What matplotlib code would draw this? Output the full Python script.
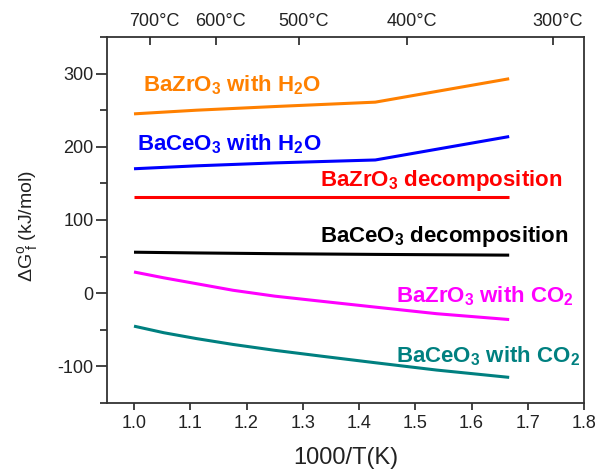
import matplotlib
matplotlib.use("Agg")
import matplotlib.pyplot as plt
import matplotlib.transforms as mtransforms
from matplotlib.ticker import MultipleLocator

plt.rcParams['font.family'] = ['Liberation Sans', 'DejaVu Sans']
plt.rcParams['mathtext.fontset'] = 'custom'
plt.rcParams['mathtext.rm'] = 'Liberation Sans'
plt.rcParams['mathtext.it'] = 'Liberation Sans'
plt.rcParams['mathtext.bf'] = 'Liberation Sans:bold'
plt.rcParams['mathtext.default'] = 'regular'
plt.rcParams['axes.unicode_minus'] = False

# ---- data ----
inv_T_a = [1.0, 1.111, 1.25, 1.429, 1.667]          # 1000/T (K)
bazro3_h2o = [245, 250, 255, 261, 293]
baceo3_h2o = [170, 174, 178, 182, 214]
bazro3_dec = [131, 131, 131, 131, 131]
baceo3_dec = [56, 55, 54, 53, 52]

inv_T_b = [1.0, 1.053, 1.111, 1.176, 1.25, 1.333, 1.429, 1.538, 1.667]
bazro3_co2 = [29, 21, 13, 4, -4, -11, -19, -28, -36]
baceo3_co2 = [-45, -54, -62, -70, -78, -86, -95, -105, -115]

series_labels = [r"BaZrO$_3$ with H$_2$O", r"BaCeO$_3$ with H$_2$O",
                 r"BaZrO$_3$ decomposition", r"BaCeO$_3$ decomposition",
                 r"BaZrO$_3$ with CO$_2$", r"BaCeO$_3$ with CO$_2$"]
series_colors = ['#FF8000', '#0000FF', '#FF0000', '#000000', '#FF00FF', '#008080']
label_pos = [(1.016, 275), (1.005, 195), (1.330, 147), (1.330, 70),
             (1.466, -12), (1.466, -94)]

top_temps_C = [700, 600, 500, 400, 300]
x_ticks = [1.0, 1.1, 1.2, 1.3, 1.4, 1.5, 1.6, 1.7, 1.8]
y_ticks = [-100, 0, 100, 200, 300]

fig = plt.figure(figsize=(6, 4.72), dpi=100)
ax = fig.add_axes([107/600, 1-403/472, 477/600, 366/472])

all_x = [inv_T_a, inv_T_a, inv_T_a, inv_T_a, inv_T_b, inv_T_b]
all_series = [bazro3_h2o, baceo3_h2o, bazro3_dec, baceo3_dec, bazro3_co2, baceo3_co2]
for xs, ys, c, lab, (lx, ly) in zip(all_x, all_series, series_colors,
                                    series_labels, label_pos):
    ax.plot(xs, ys, color=c, lw=2.2, solid_capstyle='butt')
    ax.text(lx, ly, lab, color=c, fontsize=16, fontweight='bold',
            ha='left', va='baseline')

ax.set_xlim(0.952, 1.8)
ax.set_ylim(-150, 350)
ax.set_xticks(x_ticks)
ax.set_xticklabels([f"{v:.1f}" for v in x_ticks])
ax.set_yticks(y_ticks)
ax.yaxis.set_minor_locator(MultipleLocator(50))

tick_col = '#222222'
for s in ax.spines.values():
    s.set_color('#333333')
    s.set_linewidth(1.3)
ax.tick_params(axis='x', which='major', direction='out', length=5, width=1.2,
               labelsize=13, pad=4, colors=tick_col, top=False)
ax.tick_params(axis='y', which='major', direction='out', length=8, width=1.2,
               labelsize=13, pad=1.5, colors=tick_col, right=False)
ax.tick_params(axis='y', which='minor', direction='out', length=5, width=1.2,
               colors=tick_col, right=False)

# top temperature axis
ax2 = ax.twiny()
ax2.set_xlim(ax.get_xlim())
ax2.set_xticks([1000.0 / (t + 273.15) for t in top_temps_C])
ax2.set_xticklabels([f"{t}°C" for t in top_temps_C])
ax2.tick_params(axis='x', direction='in', length=6, width=1.2, labelsize=13,
                pad=5, colors=tick_col)
offset = mtransforms.ScaledTranslation(5/100, 0, fig.dpi_scale_trans)
for lbl in ax2.get_xticklabels():
    lbl.set_transform(lbl.get_transform() + offset)
for s in ax2.spines.values():
    s.set_visible(False)

fig.text(346/600, 1-458/472, "1000/T(K)", fontsize=17, ha='center', va='center',
         color=tick_col)
fig.text(28/600, 1-226/472, r"$\Delta G^o_{\ f}$ (kJ/mol)", fontsize=14,
         rotation=90, ha='center', va='center', color=tick_col)

fig.savefig("out.png", dpi=100)
